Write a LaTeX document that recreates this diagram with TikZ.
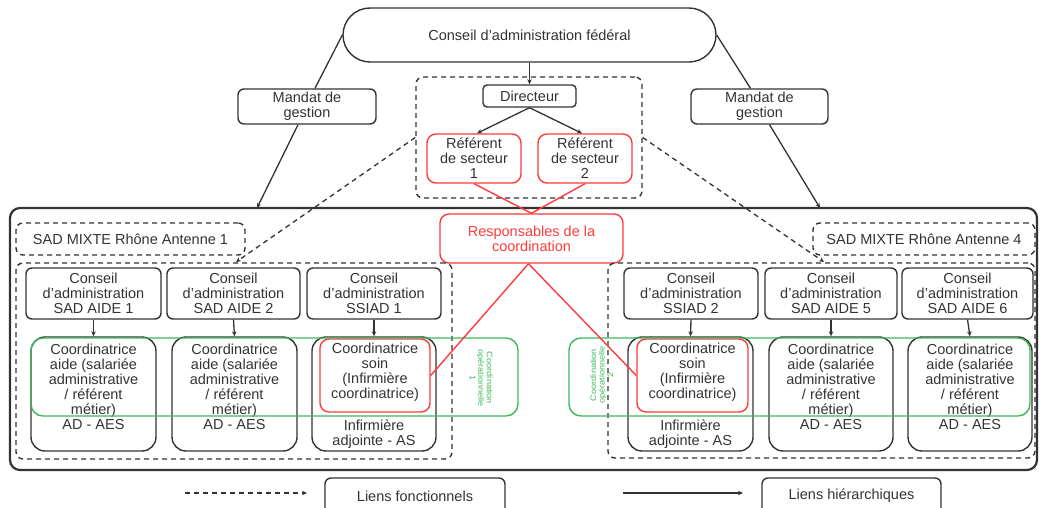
\documentclass[tikz,border=0pt]{standalone}
\usepackage{fontspec}
\setmainfont{Liberation Sans}
\usetikzlibrary{arrows.meta}
\definecolor{dk}{HTML}{333333}
\definecolor{rd}{HTML}{FF3B3B}
\definecolor{gn}{HTML}{3CB95A}
\newcommand{\gstack}[1]{\scalebox{1.15}[1]{\begin{tabular}{@{}c@{}}#1\end{tabular}}}
\begin{document}
\begin{tikzpicture}[x=1pt,y=-1pt,
  fn/.style={font=\fontsize{14.5}{15}\selectfont, align=center, text=dk},
  txt/.style={fn, inner sep=0pt},
  bx/.style={draw=dk, line width=1.4pt, rounded corners=6pt, fn, inner sep=0pt},
  cbx/.style={draw=dk, line width=1.4pt, rounded corners=14pt, inner sep=0pt},
  rbx/.style={bx, draw=rd, rounded corners=9pt},
  dbx/.style={draw=dk, line width=1.4pt, dash pattern=on 5pt off 4pt, rounded corners=7pt, inner sep=0pt, fn},
  gbx/.style={draw=gn, line width=1.4pt, rounded corners=12pt, inner sep=0pt},
  gtxt/.style={text=gn, font=\fontsize{8}{8.5}\selectfont, inner sep=0pt},
  arr/.style={draw=dk, line width=1.3pt, -{Stealth[length=5pt,width=4.5pt]}},
  darr/.style={arr, dash pattern=on 5pt off 4pt},
  rline/.style={draw=rd, line width=1.4pt},
  sz/.style 2 args={minimum width=#1pt, minimum height=#2pt}
]
\useasboundingbox (0,0) rectangle (1041,508);

% top
\node[bx, rounded corners=27pt, sz={373}{54}] (pill) at (529.5,35) {Conseil d’administration fédéral};
\node[dbx, sz={226}{121}] (dir) at (529,137.5) {};
\node[bx, rounded corners=4pt, sz={93}{22}] (direc) at (529.5,96) {Directeur};
\node[rbx, sz={94}{49}] (r1) at (474,158.5) {Référent\\de secteur\\1};
\node[rbx, sz={94}{49}] (r2) at (585,158.5) {Référent\\de secteur\\2};
\node[bx, sz={138}{35}] (mL) at (307,106.5) {Mandat de\\gestion};
\node[bx, sz={137}{35}] (mR) at (759.5,106.5) {Mandat de\\gestion};

% big frame
\node[draw=dk, line width=2.2pt, rounded corners=10pt, sz={1027}{262}, inner sep=0pt] (frame) at (523.5,339) {};
\node[rbx, sz={183}{49}] (resp) at (531.5,238.5) {\color{rd}Responsables de la\\\color{rd}coordination};
\node[dbx, sz={229}{32}] (sad1) at (130.5,239) {SAD MIXTE Rhône Antenne 1};
\node[dbx, sz={222}{32}] (sad4) at (924,239) {SAD MIXTE Rhône Antenne 4};
\node[dbx, sz={436}{196}] (gL) at (234,361) {};
\node[dbx, sz={427}{195}] (gR) at (821.5,360.5) {};

% conseils
\node[bx, sz={135}{51}] (cL1) at (93.5,293.5) {Conseil\\d’administration\\SAD AIDE 1};
\node[bx, sz={133}{51}] (cL2) at (233.5,293.5) {Conseil\\d’administration\\SAD AIDE 2};
\node[bx, sz={134}{51}] (cL3) at (374,293.5) {Conseil\\d’administration\\SSIAD 1};
\node[bx, sz={134}{51}] (cR1) at (691,293.5) {Conseil\\d’administration\\SSIAD 2};
\node[bx, sz={132}{51}] (cR2) at (831,293.5) {Conseil\\d’administration\\SAD AIDE 5};
\node[bx, sz={131}{51}] (cR3) at (967.5,293.5) {Conseil\\d’administration\\SAD AIDE 6};

% coordinatrices
\node[cbx, sz={125}{114}] (kL1) at (93.5,394) {};
\node[cbx, sz={125}{114}] (kL2) at (234.5,394) {};
\node[cbx, sz={124}{114}] (kL3) at (374,394) {};
\node[cbx, sz={125}{114}] (kR1) at (690.5,394) {};
\node[cbx, sz={124}{114}] (kR2) at (831,394) {};
\node[cbx, sz={124}{114}] (kR3) at (970,394) {};
\node[rbx, sz={110}{73}] (redL) at (375,375.5) {};
\node[rbx, sz={111}{73}] (redR) at (692.5,375.5) {};

\node[txt] (tL1) at (93.5,387) {Coordinatrice\\aide (salariée\\administrative\\/ référent\\métier)\\AD - AES};
\node[txt] (tL2) at (234.5,387) {Coordinatrice\\aide (salariée\\administrative\\/ référent\\métier)\\AD - AES};
\node[txt] (tR2) at (831,387) {Coordinatrice\\aide (salariée\\administrative\\/ référent\\métier)\\AD - AES};
\node[txt] (tR3) at (970,387) {Coordinatrice\\aide (salariée\\administrative\\/ référent\\métier)\\AD - AES};
\node[txt] (tL3) at (375,372.5) {Coordinatrice\\soin\\(Infirmière\\coordinatrice)};
\node[txt] (uL3) at (374,434) {Infirmière\\adjointe - AS};
\node[txt] (tR1) at (692.5,372.5) {Coordinatrice\\soin\\(Infirmière\\coordinatrice)};
\node[txt] (uR1) at (690.5,434) {Infirmière\\adjointe - AS};

% green
\node[gbx, sz={487}{78}] (gnL) at (274.5,377) {};
\node[gbx, sz={461}{78}] (gnR) at (799.5,377) {};
\node[gtxt, rotate=-90] (gtL) at (480,378) {\gstack{Coordination\\opérationnelle\\1}};
\node[gtxt, rotate=90] (gtR) at (603,375) {\gstack{Coordination\\opérationnelle\\2}};

% connectors
\draw[arr] (pill.south) -- (direc.north);
\draw[arr] (direc.south) -- ([xshift=3pt]r1.north);
\draw[arr] (direc.south) -- ([xshift=-3pt]r2.north);
\draw[rline] (r1.south) -- (resp.north);
\draw[rline] (r2.south) -- (resp.north);
\draw[rline] ([xshift=-3pt]resp.south) -- (redL.east);
\draw[rline] ([xshift=-3pt]resp.south) -- (redR.west);

\coordinate (fL) at (257,208);
\coordinate (fR) at (820,208);
\draw[dk, line width=1.3pt] (pill.west) -- ([xshift=8pt]mL.north);
\draw[arr] ([xshift=-9pt]mL.south) -- (fL);
\draw[dk, line width=1.3pt] (pill.east) -- ([xshift=-9pt]mR.north);
\draw[arr] ([xshift=10pt]mR.south) -- (fR);

\coordinate (aL) at (236,262);
\coordinate (aR) at (824,262);
\draw[darr] (dir.west) -- (aL);
\draw[darr] (dir.east) -- (aR);

\foreach \a/\b in {cL1/kL1,cL2/kL2,cL3/kL3,cR1/kR1,cR2/kR2,cR3/kR3}
  \draw[arr] (\a.south) -- (\b.north);

% legend
\coordinate (l1a) at (185,493);
\coordinate (l1b) at (307,493);
\coordinate (l2a) at (623,493);
\coordinate (l2b) at (743,493);
\draw[darr] (l1a) -- (l1b);
\draw[arr] (l2a) -- (l2b);
\node[bx, sz={180}{36}] (lf) at (415,496) {Liens fonctionnels};
\node[bx, sz={179}{36}] (lh) at (851.5,496) {Liens hiérarchiques};
\end{tikzpicture}
\end{document}
